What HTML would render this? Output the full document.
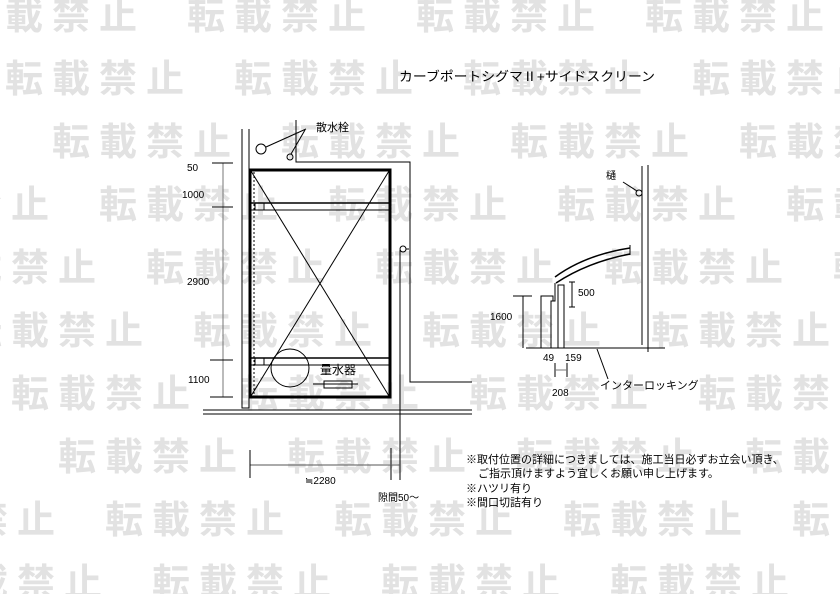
<!DOCTYPE html>
<html><head><meta charset="utf-8"><style>
html,body{margin:0;padding:0;background:#fff}
svg{display:block}
.wm{font-family:"Liberation Sans","Noto Sans CJK JP",sans-serif;font-weight:bold;font-size:38px;fill:#e2e2e2;letter-spacing:9px}
.t{font-family:"Liberation Sans","Noto Sans CJK JP",sans-serif;font-size:11px;fill:#000}
</style></head><body>
<svg width="840" height="594" viewBox="0 0 840 594" xmlns="http://www.w3.org/2000/svg">
<g class="wm">
<text x="-42" y="29">転載禁止</text><text x="187" y="29">転載禁止</text><text x="416" y="29">転載禁止</text><text x="645" y="29">転載禁止</text>
<text x="5" y="92">転載禁止</text><text x="234" y="92">転載禁止</text><text x="463" y="92">転載禁止</text><text x="692" y="92">転載禁止</text>
<text x="52" y="155">転載禁止</text><text x="281" y="155">転載禁止</text><text x="510" y="155">転載禁止</text><text x="739" y="155">転載禁止</text>
<text x="-130" y="218">転載禁止</text><text x="99" y="218">転載禁止</text><text x="328" y="218">転載禁止</text><text x="557" y="218">転載禁止</text><text x="786" y="218">転載禁止</text>
<text x="-83" y="281">転載禁止</text><text x="146" y="281">転載禁止</text><text x="375" y="281">転載禁止</text><text x="604" y="281">転載禁止</text><text x="833" y="281">転載禁止</text>
<text x="-36" y="344">転載禁止</text><text x="193" y="344">転載禁止</text><text x="422" y="344">転載禁止</text><text x="651" y="344">転載禁止</text>
<text x="11" y="407">転載禁止</text><text x="240" y="407">転載禁止</text><text x="469" y="407">転載禁止</text><text x="698" y="407">転載禁止</text>
<text x="58" y="470">転載禁止</text><text x="287" y="470">転載禁止</text><text x="516" y="470">転載禁止</text><text x="745" y="470">転載禁止</text>
<text x="-124" y="533">転載禁止</text><text x="105" y="533">転載禁止</text><text x="334" y="533">転載禁止</text><text x="563" y="533">転載禁止</text><text x="792" y="533">転載禁止</text>
<text x="-77" y="596">転載禁止</text><text x="152" y="596">転載禁止</text><text x="381" y="596">転載禁止</text><text x="610" y="596">転載禁止</text>
</g>
<g stroke="#000" fill="none" stroke-width="1">
<polyline points="242,129 242,408 249,408 249,129"/>
<polyline points="296,120 296,162 410,162 410,382 472,382"/>
<rect x="250" y="170" width="140" height="227" stroke-width="3"/>
<line x1="254" y1="172" x2="254" y2="395" stroke-dasharray="2,2"/>
<line x1="251" y1="171" x2="389" y2="396"/><line x1="389" y1="171" x2="251" y2="396"/>
<line x1="251" y1="203" x2="389" y2="203" stroke-width="1.5"/><line x1="251" y1="210" x2="389" y2="210"/>
<rect x="255" y="203" width="9" height="7"/>
<line x1="251" y1="358" x2="389" y2="358" stroke-width="1.5"/><line x1="251" y1="365" x2="389" y2="365"/>
<rect x="255" y="358" width="9" height="7"/>
<circle cx="290" cy="368" r="19"/>
<circle cx="261" cy="149" r="5"/><circle cx="290" cy="157" r="3"/>
<line x1="266" y1="147" x2="306" y2="129"/><line x1="291" y1="154" x2="305" y2="130"/>
<rect x="324" y="381" width="28" height="7"/><line x1="313" y1="384" x2="358" y2="384"/>
<line x1="223" y1="163" x2="223" y2="397" stroke="#777"/>
<line x1="212" y1="163" x2="233" y2="163"/><line x1="212" y1="207" x2="233" y2="207"/>
<line x1="210" y1="360" x2="233" y2="360"/><line x1="210" y1="397" x2="233" y2="397"/>
<line x1="203" y1="410" x2="472" y2="410"/><line x1="203" y1="414" x2="472" y2="414"/>
<line x1="400" y1="250" x2="400" y2="480"/><line x1="391" y1="448" x2="391" y2="480"/>
<circle cx="403" cy="249" r="3"/><line x1="406" y1="249" x2="409" y2="249"/>
<line x1="250" y1="465" x2="400" y2="465" stroke="#555"/>
<line x1="250" y1="450" x2="250" y2="478"/>
<line x1="642" y1="166" x2="642" y2="345"/><line x1="648" y1="165" x2="648" y2="352"/>
<line x1="526" y1="348" x2="665" y2="348"/>
<circle cx="639" cy="193" r="3"/><line x1="623" y1="182" x2="637" y2="191"/>
<polyline points="541,348 541,296 553,296 553,301"/>
<polyline points="551,348 551,301 555,301 555,283"/>
<polyline points="558,348 558,285 564,285 564,348"/>
<path d="M555,277 Q585,255 630,248" stroke-width="1.5"/>
<path d="M556,283 Q588,262 630,254" stroke-width="1.5"/>
<line x1="630" y1="245" x2="630" y2="255"/>
<line x1="572" y1="282" x2="572" y2="307"/><line x1="569" y1="282" x2="575" y2="282"/><line x1="569" y1="307" x2="575" y2="307"/>
<line x1="523" y1="296" x2="523" y2="348"/><line x1="513" y1="296" x2="532" y2="296"/>
<line x1="555" y1="363" x2="555" y2="377"/><line x1="567" y1="363" x2="567" y2="377"/><line x1="555" y1="370" x2="567" y2="370" stroke="#777"/>
<line x1="597" y1="349" x2="608" y2="379"/>
</g>
<g class="t">
<text x="399" y="81" font-size="13" textLength="256" lengthAdjust="spacingAndGlyphs">カーブポートシグマⅡ+サイドスクリーン</text>
<text x="316" y="131">散水栓</text>
<text x="320" y="374" font-size="12">量水器</text>
<text x="187" y="171" font-size="10">50</text>
<text x="182" y="198" font-size="10">1000</text>
<text x="187" y="285" font-size="10">2900</text>
<text x="188" y="383" font-size="10">1100</text>
<text x="305" y="484" font-size="10">≒2280</text>
<text x="378" y="501" font-size="10">隙間50～</text>
<text x="606" y="179" font-size="10">樋</text>
<text x="578" y="296" font-size="10">500</text>
<text x="490" y="320" font-size="10">1600</text>
<text x="543" y="361" font-size="10">49</text>
<text x="565" y="361" font-size="10">159</text>
<text x="552" y="396" font-size="10">208</text>
<text x="600" y="389">インターロッキング</text>
<text x="466" y="463">※取付位置の詳細につきましては、施工当日必ずお立会い頂き、</text>
<text x="478" y="477">ご指示頂けますよう宜しくお願い申し上げます。</text>
<text x="466" y="492">※ハツリ有り</text>
<text x="466" y="506">※間口切詰有り</text>
</g>
</svg>
</body></html>
